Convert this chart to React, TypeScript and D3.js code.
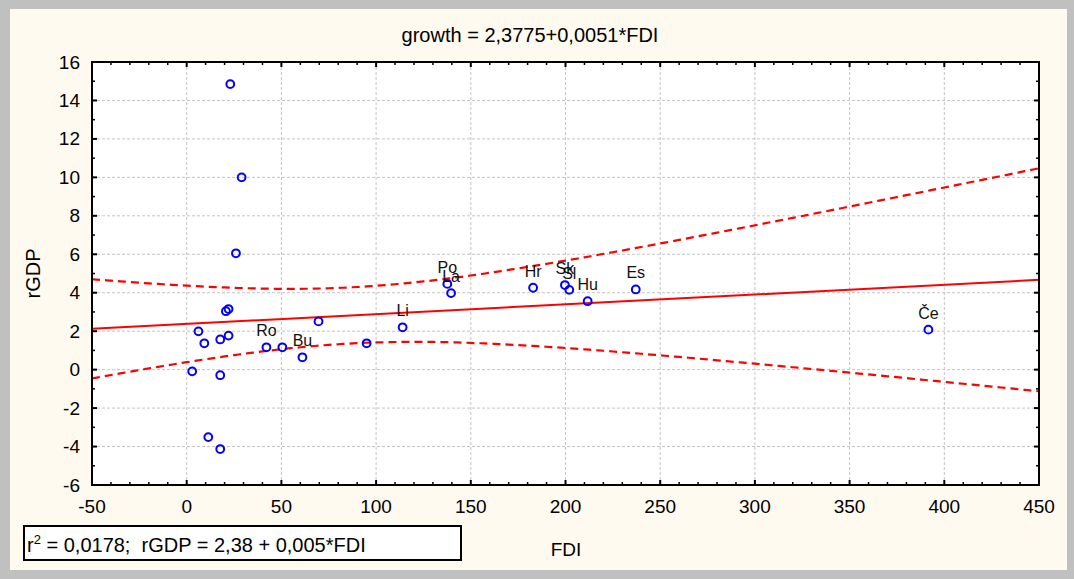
import React from "react";
import * as d3 from "d3";

// ---- data ----
const fdi = [23, 29, 26, 20.7, 22.1, 6.2, 9.3, 17.7, 22.1, 2.9, 17.7, 11.4, 17.7, 42.1, 50.5, 61.1, 69.6, 95.0, 114.0, 137.6, 139.6, 182.9, 199.7, 202.0, 211.7, 237.1, 391.6];
const rgdp = [14.85, 10.0, 6.05, 3.04, 3.15, 1.99, 1.37, 1.57, 1.77, -0.09, -0.29, -3.51, -4.13, 1.16, 1.16, 0.64, 2.51, 1.37, 2.2, 4.46, 3.98, 4.26, 4.4, 4.15, 3.56, 4.17, 2.08];
const pointLabels = ["", "", "", "", "", "", "", "", "", "", "", "", "", "Ro", "", "Bu", "", "", "Li", "Po", "La", "Hr", "Sk", "Sl", "Hu", "Es", "Če"];

const xTicks = [-50, 0, 50, 100, 150, 200, 250, 300, 350, 400, 450];
const yTicks = [-6, -4, -2, 0, 2, 4, 6, 8, 10, 12, 14, 16];

const intercept = 2.3775;
const slope = 0.0051;
const tCrit = 2.0595; // t(0.975, df = 25)

const titleText = "growth = 2,3775+0,0051*FDI";
const xTitle = "FDI";
const yTitle = "rGDP";
const r2Text = "0,0178";
const eqText = "rGDP = 2,38 + 0,005*FDI";

const FONT = "'Liberation Sans', Arial, Helvetica, sans-serif";

export default function App() {
  const W = 1074, H = 579;
  const L = 92, R = 1039, T = 62, B = 485;
  const x = d3.scaleLinear().domain([-50, 450]).range([L, R]);
  const y = d3.scaleLinear().domain([-6, 16]).range([B, T]);

  // regression statistics
  const n = fdi.length;
  const xbar = d3.mean(fdi) as number;
  const sxx = d3.sum(fdi, (v) => (v - xbar) ** 2);
  const sse = d3.sum(fdi, (v, i) => (rgdp[i] - (intercept + slope * v)) ** 2);
  const s = Math.sqrt(sse / (n - 2));
  const fit = (v: number) => intercept + slope * v;
  const half = (v: number) => tCrit * s * Math.sqrt(1 / n + (v - xbar) ** 2 / sxx);

  const grid = d3.range(-50, 450.001, 2.5);
  const fitLine = d3.line<number>().x((v) => x(v)).y((v) => y(fit(v)));
  const upper = d3.line<number>().x((v) => x(v)).y((v) => y(fit(v) + half(v)));
  const lower = d3.line<number>().x((v) => x(v)).y((v) => y(fit(v) - half(v)));

  const xMinor = d3.range(-50, 451, 10);
  const yMinor = d3.range(-6, 16.01, 1);

  return (
    <svg width={W} height={H} style={{ position: "absolute", left: 0, top: 0 }} fontFamily={FONT}>
      <rect x={0} y={0} width={W} height={H} fill="#c0c0c0" />
      <rect x={10} y={9} width={1057} height={561} fill="#fffaf0" />
      <rect x={L} y={T} width={R - L} height={B - T} fill="#ffffff" />
      <defs>
        <clipPath id="plotclip">
          <rect x={L} y={T} width={R - L} height={B - T} />
        </clipPath>
      </defs>

      {/* grid */}
      {xTicks.slice(1, -1).map((t) => (
        <line key={"gx" + t} x1={x(t)} x2={x(t)} y1={T} y2={B} stroke="#c4c4c4" strokeWidth={1} strokeDasharray="3,2" />
      ))}
      {yTicks.slice(1, -1).map((t) => (
        <line key={"gy" + t} x1={L} x2={R} y1={y(t)} y2={y(t)} stroke="#c4c4c4" strokeWidth={1} strokeDasharray="3,2" />
      ))}

      {/* ticks (inward on all sides) */}
      {xMinor.map((t) => {
        const major = t % 50 === 0;
        const len = major ? 5 : 3;
        return (
          <g key={"tx" + t}>
            <line x1={x(t)} x2={x(t)} y1={B} y2={B - len} stroke="#000" strokeWidth={major ? 2 : 1.5} />
            <line x1={x(t)} x2={x(t)} y1={T} y2={T + len} stroke="#000" strokeWidth={major ? 2 : 1.5} />
          </g>
        );
      })}
      {yMinor.map((t) => {
        const major = Math.round(t) % 2 === 0;
        const len = major ? 5 : 3;
        return (
          <g key={"ty" + t}>
            <line x1={L} x2={L + len} y1={y(t)} y2={y(t)} stroke="#000" strokeWidth={major ? 2 : 1.5} />
            <line x1={R} x2={R - len} y1={y(t)} y2={y(t)} stroke="#000" strokeWidth={major ? 2 : 1.5} />
          </g>
        );
      })}

      {/* regression & confidence bands */}
      <g clipPath="url(#plotclip)">
        <path d={fitLine([-50, 450]) ?? ""} fill="none" stroke="#ff0000" strokeWidth={2} />
        <path d={upper(grid) ?? ""} fill="none" stroke="#ff0000" strokeWidth={2.2} strokeDasharray="8,5" />
        <path d={lower(grid) ?? ""} fill="none" stroke="#ff0000" strokeWidth={2.2} strokeDasharray="8,5" />
      </g>

      {/* points */}
      {fdi.map((v, i) => (
        <circle key={"p" + i} cx={x(v)} cy={y(rgdp[i])} r={3.9} fill="none" stroke="#0000ff" strokeWidth={2} />
      ))}
      {fdi.map((v, i) =>
        pointLabels[i] ? (
          <text key={"l" + i} x={x(v)} y={y(rgdp[i]) - 11} textAnchor="middle" fontSize={16} fill="#111">
            {pointLabels[i]}
          </text>
        ) : null
      )}

      {/* frame */}
      <rect x={L} y={T} width={R - L} height={B - T} fill="none" stroke="#000" strokeWidth={2} />

      {/* tick labels */}
      {xTicks.map((t) => (
        <text key={"xl" + t} x={x(t)} y={513} textAnchor="middle" fontSize={19} fill="#000">
          {t}
        </text>
      ))}
      {yTicks.map((t) => (
        <text key={"yl" + t} x={80} y={y(t) + 6.5} textAnchor="end" fontSize={19} fill="#000">
          {t}
        </text>
      ))}

      {/* titles */}
      <text x={530} y={42} textAnchor="middle" fontSize={20} fill="#000">
        {titleText}
      </text>
      <text x={566} y={556} textAnchor="middle" fontSize={19} fill="#000">
        {xTitle}
      </text>
      <text transform={`translate(40,${(T + B) / 2}) rotate(-90)`} textAnchor="middle" fontSize={20} fill="#000">
        {yTitle}
      </text>

      {/* r2 box */}
      <rect x={24} y={526} width={437} height={34} fill="#ffffff" stroke="#000" strokeWidth={2} />
      <text x={27} y={552} fontSize={20} fill="#000" style={{ whiteSpace: "pre" }}>
        <tspan>r</tspan>
        <tspan dy={-8} fontSize={13}>2</tspan>
        <tspan dy={8}>{` = ${r2Text};  ${eqText}`}</tspan>
      </text>
    </svg>
  );
}
